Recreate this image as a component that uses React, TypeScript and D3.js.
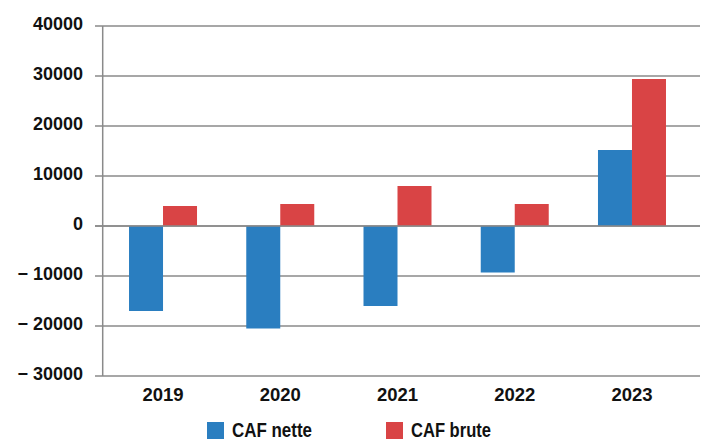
import React from "react";
import * as d3 from "d3";

const years = ["2019", "2020", "2021", "2022", "2023"];
const cafNette = [-17000, -20500, -16000, -9300, 15200];
const cafBrute = [4000, 4400, 8000, 4400, 29400];
const yTicks = [-30000, -20000, -10000, 0, 10000, 20000, 30000, 40000];
const seriesNames = ["CAF nette", "CAF brute"];
const seriesColors = ["#2a7ec0", "#d94445"];

const W = 703;
const H = 439;

export default function App() {
  const y = d3.scaleLinear().domain([-30000, 40000]).range([376, 26]);
  const x0 = d3
    .scaleBand<string>()
    .domain(years)
    .range([104.4, 690.6])
    .paddingInner(0.42)
    .paddingOuter(0.21);
  const x1 = d3
    .scaleBand<string>()
    .domain(seriesNames)
    .range([0, x0.bandwidth()]);
  const series = [cafNette, cafBrute];
  const fmt = (v: number) => (v < 0 ? "\u2212 " + Math.abs(v) : String(v));

  return (
    <svg
      width={W}
      height={H}
      style={{ position: "absolute", left: 0, top: 0, background: "#fff" }}
    >
      {yTicks.map((t) => (
        <g key={t}>
          <line
            x1={95}
            x2={700}
            y1={y(t)}
            y2={y(t)}
            stroke="#8a8a8a"
            strokeWidth={1.5}
          />
          <text
            x={83}
            y={y(t) + 3.5}
            textAnchor="end"
            fontFamily="Liberation Sans, Arial, sans-serif"
            fontWeight="bold"
            fontSize={18}
            fill="#111"
          >
            {fmt(t)}
          </text>
        </g>
      ))}
      {years.map((yr, i) =>
        series.map((s, j) => {
          const v = s[i];
          const xx = (x0(yr) as number) + (x1(seriesNames[j]) as number);
          return (
            <rect
              key={yr + j}
              x={xx}
              width={x1.bandwidth()}
              y={Math.min(y(v), y(0))}
              height={Math.abs(y(v) - y(0))}
              fill={seriesColors[j]}
            />
          );
        })
      )}
      <line x1={95} x2={700} y1={y(0)} y2={y(0)} stroke="#8a8a8a" strokeWidth={1.5} />
      <line
        x1={102.7}
        x2={102.7}
        y1={y(40000)}
        y2={y(-30000)}
        stroke="#8a8a8a"
        strokeWidth={1.5}
      />
      {years.map((yr) => (
        <text
          key={yr}
          x={(x0(yr) as number) + x0.bandwidth() / 2}
          y={401}
          textAnchor="middle"
          fontFamily="Liberation Sans, Arial, sans-serif"
          fontWeight="bold"
          fontSize={18.5}
          fill="#111"
        >
          {yr}
        </text>
      ))}
      {seriesNames.map((n, j) => {
        const lx = j === 0 ? 207 : 386;
        return (
          <g key={n}>
            <rect x={lx} y={422} width={17} height={17} fill={seriesColors[j]} />
            <text
              x={lx + 25}
              y={436.5}
              fontFamily="Liberation Sans, Arial, sans-serif"
              fontWeight="bold"
              fontSize={20}
              textLength={80}
              lengthAdjust="spacingAndGlyphs"
              fill="#111"
            >
              {n}
            </text>
          </g>
        );
      })}
    </svg>
  );
}
